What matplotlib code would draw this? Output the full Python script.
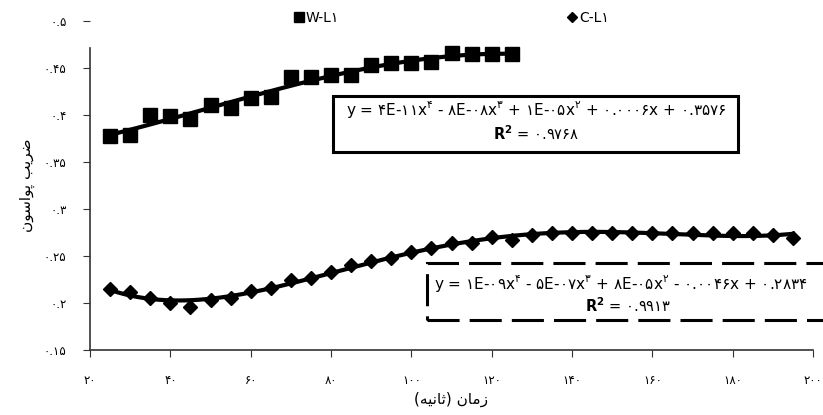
import numpy as np
import matplotlib
matplotlib.use('Agg')
import matplotlib.pyplot as plt
from matplotlib.patches import Rectangle
from matplotlib.lines import Line2D

plt.rcParams['font.family'] = ['DejaVu Sans']
plt.rcParams['mathtext.fontset'] = 'dejavusans'

# data
w_time = [25, 30, 35, 40, 45, 50, 55, 60, 65, 70, 75, 80, 85, 90, 95, 100, 105, 110, 115, 120, 125]
w_poisson = [0.378, 0.379, 0.400, 0.399, 0.396, 0.411, 0.407, 0.418, 0.419, 0.440, 0.440,
             0.443, 0.443, 0.453, 0.455, 0.455, 0.456, 0.466, 0.465, 0.465, 0.465]

c_time = list(range(25, 200, 5))
c_poisson = [0.215, 0.212, 0.205, 0.200, 0.196, 0.203, 0.205, 0.213, 0.216, 0.224, 0.227,
             0.233, 0.240, 0.245, 0.248, 0.254, 0.259, 0.264, 0.264, 0.270, 0.267, 0.272,
             0.274, 0.274, 0.274, 0.274, 0.275, 0.274, 0.274, 0.274, 0.274, 0.274, 0.274,
             0.272, 0.269]

y_ticks = [0.15, 0.2, 0.25, 0.3, 0.35, 0.4, 0.45, 0.5]
y_tick_labels = ['۰.۱۵', '۰.۲', '۰.۲۵', '۰.۳', '۰.۳۵', '۰.۴', '۰.۴۵', '۰.۵']
x_ticks = [20, 40, 60, 80, 100, 120, 140, 160, 180, 200]
x_tick_labels = ['۲۰', '۴۰', '۶۰', '۸۰', '۱۰۰', '۱۲۰', '۱۴۰', '۱۶۰', '۱۸۰', '۲۰۰']

series_names = ['W-L۱', 'C-L۱']
eq_w = ('y = ۴E-۱۱x$^{۴}$ - ۸E-۰۸x$^{۳}$ + ۱E-۰۵x$^{۲}$ + ۰.۰۰۰۶x + ۰.۳۵۷۶',
        r'$\mathbf{R^2}$ = ۰.۹۷۶۸')
eq_c = ('y = ۱E-۰۹x$^{۴}$ - ۵E-۰۷x$^{۳}$ + ۸E-۰۵x$^{۲}$ - ۰.۰۰۴۶x + ۰.۲۸۳۴',
        r'$\mathbf{R^2}$ = ۰.۹۹۱۳')
x_title = 'زمان (ثانیه)'
y_title = 'ضریب پواسون'

# minimal arabic shaping: (isolated, final, initial, medial)
FORMS = {
    'ز': ('\uFEAF', '\uFEB0', None, None),
    'م': ('\uFEE1', '\uFEE2', '\uFEE3', '\uFEE4'),
    'ا': ('\uFE8D', '\uFE8E', None, None),
    'ن': ('\uFEE5', '\uFEE6', '\uFEE7', '\uFEE8'),
    'ث': ('\uFE99', '\uFE9A', '\uFE9B', '\uFE9C'),
    'ی': ('\uFBFC', '\uFBFD', '\uFBFE', '\uFBFF'),
    'ه': ('\uFEE9', '\uFEEA', '\uFEEB', '\uFEEC'),
    'ض': ('\uFEBD', '\uFEBE', '\uFEBF', '\uFEC0'),
    'ر': ('\uFEAD', '\uFEAE', None, None),
    'ب': ('\uFE8F', '\uFE90', '\uFE91', '\uFE92'),
    'پ': ('\uFB56', '\uFB57', '\uFB58', '\uFB59'),
    'و': ('\uFEED', '\uFEEE', None, None),
    'س': ('\uFEB1', '\uFEB2', '\uFEB3', '\uFEB4'),
}


def shape(text):
    out = []
    for i, ch in enumerate(text):
        forms = FORMS.get(ch)
        if forms is None:
            out.append(ch)
            continue
        prev = text[i - 1] if i > 0 else ''
        nxt = text[i + 1] if i + 1 < len(text) else ''
        p = prev in FORMS and FORMS[prev][2] is not None
        n = forms[2] is not None and nxt in FORMS
        out.append(forms[3] if p and n else forms[1] if p else forms[2] if n else forms[0])
    mirror = {'(': ')', ')': '('}
    return ''.join(mirror.get(c, c) for c in reversed(out))


W, H = 823, 415
fig = plt.figure(figsize=(W / 100, H / 100), dpi=100)
ax = fig.add_axes([90 / W, 1 - 350 / H, 723 / W, 329 / H])

ax.plot(w_time, w_poisson, linestyle='none', marker='s', markersize=10.5, color='black')
ax.plot(c_time, c_poisson, linestyle='none', marker='D', markersize=7.5, color='black')

# 4th order trendlines
for xs, ys in ((w_time, w_poisson), (c_time, c_poisson)):
    coef = np.polyfit(xs, ys, 4)
    xx = np.linspace(xs[0], xs[-1], 200)
    ax.plot(xx, np.polyval(coef, xx), color='black', lw=3)

ax.set_xlim(20, 200)
ax.set_ylim(0.15, 0.5)
ax.set_xticks(x_ticks)
ax.set_xticklabels(x_tick_labels, fontsize=8.5)
ax.set_yticks(y_ticks)
ax.set_yticklabels(y_tick_labels, fontsize=8.5)
ax.tick_params(axis='x', direction='out', length=5, pad=12, color='#333333')
ax.tick_params(axis='y', direction='out', length=5, pad=12, color='#333333')
for s in ('top', 'right'):
    ax.spines[s].set_visible(False)
for s in ('left', 'bottom'):
    ax.spines[s].set_color('#333333')
    ax.spines[s].set_linewidth(1.2)
ax.spines['left'].set_bounds(0.15, 0.471)

ax.set_xlabel(shape(x_title), fontsize=11, labelpad=4)
ax.set_ylabel(shape(y_title), fontsize=11, labelpad=6)

handles = [Line2D([], [], ls='none', marker='s', color='black', markersize=7),
           Line2D([], [], ls='none', marker='D', color='black', markersize=5)]
fig.legend(handles, series_names, loc='center', bbox_to_anchor=(452 / W, 1 - 18 / H),
           ncol=2, frameon=False, fontsize=10, handlelength=0.6, handletextpad=0.2,
           columnspacing=16.5)

# equation boxes
fig.patches.append(Rectangle((333 / W, 1 - 152 / H), 405 / W, 56 / H, transform=fig.transFigure,
                             facecolor='white', edgecolor='black', lw=2.2, zorder=5))
fig.text(536 / W, 1 - 110 / H, eq_w[0], ha='center', va='center', fontsize=11, zorder=6)
fig.text(536 / W, 1 - 134 / H, eq_w[1], ha='center', va='center', fontsize=10.5, zorder=6)

fig.patches.append(Rectangle((427 / W, 1 - 320 / H), 430 / W, 57 / H, transform=fig.transFigure,
                             facecolor='white', edgecolor='black', lw=2.2,
                             linestyle=(0, (10.5, 3.3)), zorder=5))
fig.text(434 / W, 1 - 283 / H, eq_c[0], ha='left', va='center', fontsize=11, zorder=6)
fig.text(628 / W, 1 - 306 / H, eq_c[1], ha='center', va='center', fontsize=10.5, zorder=6)

fig.savefig('out.png', dpi=100)
